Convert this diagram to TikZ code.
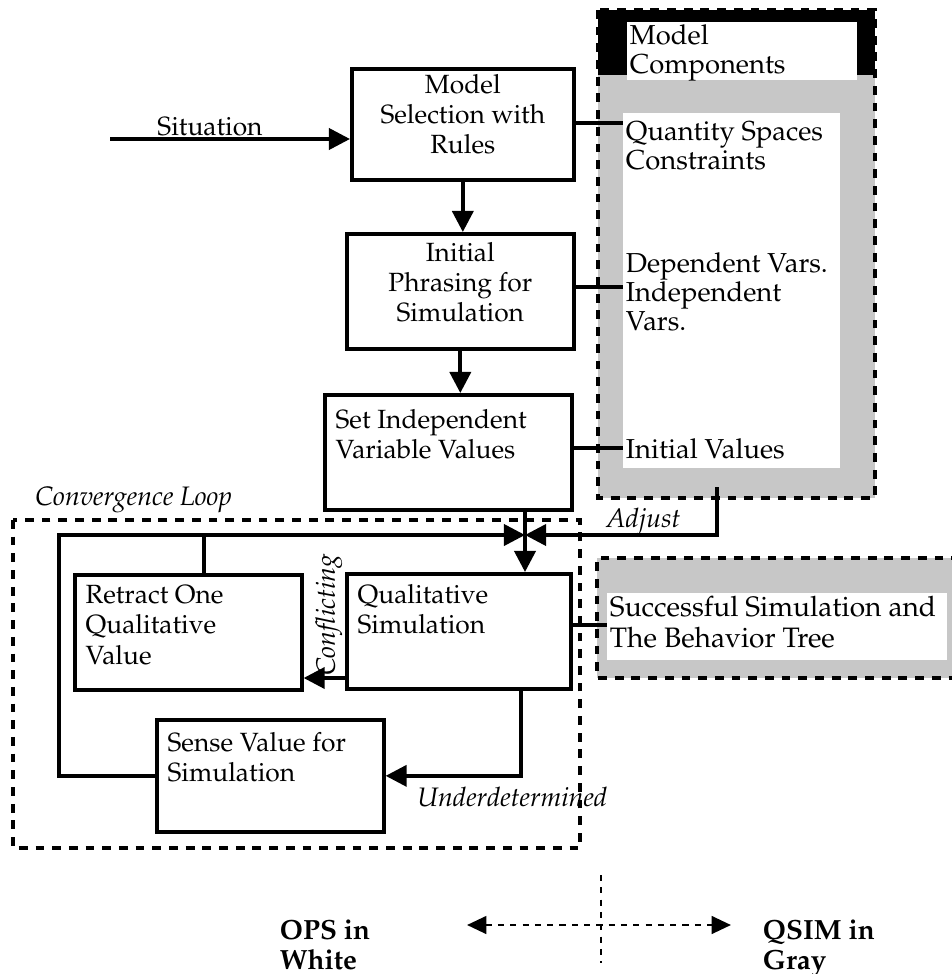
\documentclass[tikz,border=0pt]{standalone}
\usepackage[T1]{fontenc}
\usepackage{mathpazo}
\usetikzlibrary{arrows.meta}

\begin{document}
\begin{tikzpicture}[x=0.02cm, y=-0.02cm,
		every node/.style={font=\fontsize{15}{17.1}\selectfont},
		box/.style={draw, line width=2.1pt, anchor=north west, inner sep=0pt},
		ctr/.style={anchor=north, align=center, inner sep=4pt},
		lft/.style={anchor=north west, align=left, inner xsep=7pt, inner ysep=7pt},
		item/.style={anchor=north west, align=left, inner sep=1.5pt, font=\fontsize{15.6}{16.5}\selectfont},
		note/.style={font=\fontsize{15.2}{17.1}\selectfont\itshape, inner sep=0pt},
		flow/.style={line width=2.1pt, -{Triangle[length=12pt, width=12pt]}},
		link/.style={line width=1.9pt},
		frame/.style={line width=2.1pt, dash pattern=on 5pt off 4.5pt},
		legline/.style={line width=1.5pt, dash pattern=on 3.5pt off 3.5pt}]
	\useasboundingbox (0,0) rectangle (951,974);
	
	% gray areas (QSIM)
	\fill[black!22] (598,10) rectangle (875,498);
	\fill[black] (598,10) rectangle (875,75);
	\fill[white] (627,22) rectangle (857,80);
	\fill[white] (623,113) rectangle (840,468);
	\draw[frame] (598,10) rectangle (875,498);
	\fill[black!22] (597,558) rectangle (960,678);
	\fill[white] (607,593) rectangle (947,660);
	\draw[frame] (960,558) -- (597,558) -- (597,678) -- (960,678);
	
	\node[item] (mctitle) at (627,22) {Model\\Components};
	\node[item] (qspc) at (623,119) {Quantity Spaces\\Constraints};
	\node[item] (vars) at (623,250) {Dependent Vars.\\Independent\\Vars.};
	\node[item] (ival) at (623,436) {Initial Values};
	\node[item, font=\fontsize{16}{17.8}\selectfont] (succ) at (607,593) {Successful Simulation and\\The Behavior Tree};
	
	% OPS boxes
	\node[box, minimum width=4.44cm, minimum height=2.22cm,
		label={[ctr]north:Model\\Selection with\\Rules}] (msel) at (350,67) {};
	\node[box, minimum width=4.54cm, minimum height=2.30cm,
		label={[ctr, inner sep=5.5pt]north:Initial\\Phrasing for\\Simulation}] (iphr) at (345,232) {};
	\node[box, minimum width=4.94cm, minimum height=2.30cm,
		label={[lft, inner ysep=9pt]north west:Set Independent\\Variable Values}] (setind) at (323,393) {};
	\node[box, minimum width=4.48cm, minimum height=2.30cm,
		label={[lft]north west:Qualitative\\Simulation}] (qsim) at (345,572) {};
	\node[box, minimum width=4.54cm, minimum height=2.30cm,
		label={[lft]north west:Retract One\\Qualitative\\Value}] (retr) at (73,573) {};
	\node[box, minimum width=4.54cm, minimum height=2.24cm,
		label={[lft, inner ysep=8pt]north west:Sense Value for\\Simulation}] (sense) at (155,718) {};
	
	% convergence loop
	\draw[frame] (13,520) rectangle (580,848);
	\node[note, anchor=base west] (cloop) at (35,505) {Convergence Loop};
	
	\coordinate (sit) at (110,139);
	\coordinate (jn) at (525,535);
	\coordinate (lp) at (59,535);
	\coordinate (rt) at (204,535);
	\coordinate (adj) at (717,487);
	
	\node[anchor=base] (sitlbl) at (210,135) {Situation};
	\draw[flow] (sit) -- (msel.west |- sit);
	\draw[flow] (msel.south) -- (msel.south |- iphr.north);
	\draw[flow] (iphr.south) -- (iphr.south |- setind.north);
	\draw[link] (msel.east |- 0,123) -- (qspc.west |- 0,123);
	\draw[link] (iphr.east |- 0,287) -- (vars.west |- 0,287);
	\draw[link] (setind.east |- 0,448) -- (ival.west |- 0,448);
	
	\draw[flow] (setind.south -| jn) -- (qsim.north -| jn);
	\draw[flow] (adj) |- (jn);
	\node[note, anchor=base west] (adjlbl) at (606,527) {Adjust};
	\draw[flow] (sense.west) -| (lp) -- (jn);
	\draw[link, line width=2.1pt] (rt) -- (retr.north -| rt);
	\draw[flow] (qsim.west |- 0,678) -- (retr.east |- 0,678);
	\node[note, rotate=90] (cflbl) at (329,615) {Conflicting};
	\draw[flow] (qsim.south -| 521,0) |- (sense.east);
	\node[note, anchor=base west] (udlbl) at (417,806) {Underdetermined};
	\draw[link] (qsim.east |- 0,625) -- (succ.west |- 0,625);
	
	% legend
	\coordinate (la) at (467,925);
	\coordinate (lb) at (731,925);
	\coordinate (lt) at (601,875);
	\coordinate (lu) at (601,963);
	\draw[legline] (lt) -- (lu);
	\draw[legline, {Triangle[length=11pt, width=10pt]}-{Triangle[length=11pt, width=10pt]}] (la) -- (lb);
	\node[item, font=\fontsize{15.8}{17.1}\selectfont\bfseries] (ops) at (277,917) {OPS in\\White};
	\node[item, font=\fontsize{15.8}{17.1}\selectfont\bfseries] (qsl) at (760,917) {QSIM in\\Gray};
\end{tikzpicture}
\end{document}
